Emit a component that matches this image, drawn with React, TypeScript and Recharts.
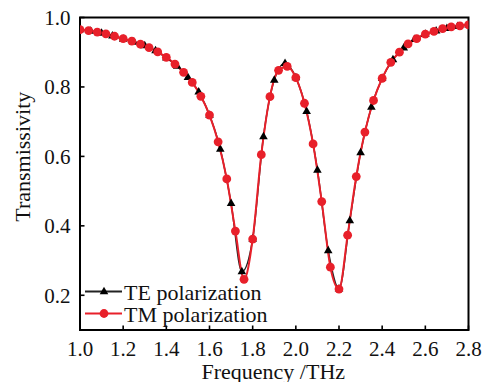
import React from 'react';
import { LineChart, Line, XAxis, YAxis, ReferenceArea, Legend } from 'recharts';

const FONT = '"Liberation Serif", "Times New Roman", serif';
const RED = '#e8202a';
const BLACK = '#000000';
const TEXT = '#111111';

// TM polarization samples (0.04 THz step)
const tmFrequency = [
  1.0, 1.04, 1.08, 1.12, 1.16, 1.2, 1.24, 1.28, 1.32, 1.36, 1.4, 1.44, 1.48, 1.52, 1.56, 1.6,
  1.64, 1.68, 1.72, 1.76, 1.8, 1.84, 1.88, 1.92, 1.96, 2.0, 2.04, 2.08, 2.12, 2.16, 2.2, 2.24,
  2.28, 2.32, 2.36, 2.4, 2.44, 2.48, 2.52, 2.56, 2.6, 2.64, 2.68, 2.72, 2.76, 2.8,
];
const tmTransmissivity = [
  0.965, 0.962, 0.958, 0.953, 0.946, 0.939, 0.932, 0.923, 0.913, 0.901, 0.885, 0.866, 0.842,
  0.813, 0.773, 0.719, 0.642, 0.535, 0.385, 0.246, 0.362, 0.605, 0.772, 0.848, 0.859, 0.827,
  0.753, 0.636, 0.47, 0.281, 0.218, 0.373, 0.542, 0.67, 0.761, 0.825, 0.871, 0.9, 0.924, 0.939,
  0.952, 0.96, 0.968, 0.973, 0.976, 0.979,
];

// TE polarization samples (0.05 THz step)
const teFrequency = [
  1.0, 1.05, 1.1, 1.15, 1.2, 1.25, 1.3, 1.35, 1.4, 1.45, 1.5, 1.55, 1.6, 1.65, 1.7, 1.75, 1.8,
  1.85, 1.9, 1.95, 2.0, 2.05, 2.1, 2.15, 2.2, 2.25, 2.3, 2.35, 2.4, 2.45, 2.5, 2.55, 2.6, 2.65,
  2.7, 2.75, 2.8,
];
const teTransmissivity = [
  0.965, 0.961, 0.955, 0.947, 0.938, 0.929, 0.919, 0.905, 0.884, 0.86, 0.828, 0.786, 0.719,
  0.621, 0.465, 0.268, 0.362, 0.657, 0.82, 0.868, 0.827, 0.73, 0.561, 0.329, 0.219, 0.415,
  0.611, 0.742, 0.825, 0.879, 0.913, 0.937, 0.952, 0.962, 0.969, 0.975, 0.979,
];

const xTicks = [1.0, 1.2, 1.4, 1.6, 1.8, 2.0, 2.2, 2.4, 2.6, 2.8];
const yTicks = [0.2, 0.4, 0.6, 0.8, 1.0];
const teName = 'TE polarization';
const tmName = 'TM polarization';
const xLabel = 'Frequency /THz';
const yLabel = 'Transmissivity';

const teData = teFrequency.map((f, i) => ({ f, te: teTransmissivity[i] }));
const tmData = tmFrequency.map((f, i) => ({ f, tm: tmTransmissivity[i] }));

const trianglePoints = (cx: number, cy: number) =>
  `${cx},${cy - 4.8} ${cx - 4.3},${cy + 2.7} ${cx + 4.3},${cy + 2.7}`;

const TriangleDot = (props: any) => {
  const { cx, cy, index } = props;
  if (cx == null || cy == null) return <g key={`t-${index}`} />;
  return <polygon key={`t-${index}`} points={trianglePoints(cx, cy)} fill={BLACK} />;
};

const CircleDot = (props: any) => {
  const { cx, cy, index } = props;
  if (cx == null || cy == null) return <g key={`c-${index}`} />;
  return <circle key={`c-${index}`} cx={cx} cy={cy} r={4.4} fill={RED} />;
};

const renderLegend = (props: any) => {
  const payload = (props && props.payload) || [];
  return (
    <div style={{ fontFamily: FONT, fontSize: 22, color: TEXT }}>
      {payload.map((entry: any) => {
        const isTE = entry.value === teName;
        const color = isTE ? '#222' : RED;
        return (
          <div key={entry.value} style={{ display: 'flex', alignItems: 'flex-start', height: 22 }}>
            <svg width={39} height={22} style={{ display: 'block' }}>
              <line x1={0} x2={37} y1={9.5} y2={9.5} stroke={color} strokeWidth={2} />
              {isTE ? (
                <polygon points={trianglePoints(19, 9.5)} fill={BLACK} />
              ) : (
                <circle cx={19} cy={9.5} r={4.4} fill={RED} />
              )}
            </svg>
            <span style={{ lineHeight: '22px', whiteSpace: 'nowrap' }}>{entry.value}</span>
          </div>
        );
      })}
    </div>
  );
};

export default function App() {
  const tickStyle = { fontFamily: FONT, fontSize: 21, fill: TEXT };
  return (
    <div style={{ position: 'absolute', left: 0, top: 0, width: 482, height: 382, background: '#fff' }}>
      <LineChart width={482} height={382} margin={{ top: 17.5, right: 13.5, left: 20, bottom: 22 }}>
        <XAxis
          type="number"
          dataKey="f"
          domain={[1, 2.8]}
          ticks={xTicks}
          interval={0}
          allowDataOverflow
          tickFormatter={(v: number) => v.toFixed(1)}
          tick={tickStyle}
          tickSize={-4.5}
          tickMargin={16}
          height={30}
          axisLine={{ stroke: BLACK, strokeWidth: 2 }}
          tickLine={{ stroke: BLACK, strokeWidth: 1.6 }}
          label={{
            content: (p: any) => {
              const vb = p.viewBox || { x: 80, y: 330, width: 388.5, height: 30 };
              return (
                <text
                  x={vb.x + vb.width / 2 - 1}
                  y={vb.y + 49.3}
                  textAnchor="middle"
                  fontFamily={FONT}
                  fontSize={22}
                  fill={TEXT}
                >
                  {xLabel}
                </text>
              );
            },
          }}
        />
        <YAxis
          type="number"
          domain={[0.1, 1]}
          ticks={yTicks}
          interval={0}
          allowDataOverflow
          tickFormatter={(v: number) => v.toFixed(1)}
          tick={tickStyle}
          tickSize={-4.5}
          tickMargin={14}
          width={60}
          axisLine={{ stroke: BLACK, strokeWidth: 2 }}
          tickLine={{ stroke: BLACK, strokeWidth: 1.6 }}
          label={{
            content: (p: any) => {
              const vb = p.viewBox || { x: 20, y: 17.5, width: 60, height: 312.5 };
              const x = vb.x + 9.5;
              const y = vb.y + vb.height / 2 - 17;
              return (
                <text
                  x={x}
                  y={y}
                  transform={`rotate(-90, ${x}, ${y})`}
                  textAnchor="middle"
                  fontFamily={FONT}
                  fontSize={22}
                  fill={TEXT}
                >
                  {yLabel}
                </text>
              );
            },
          }}
        />
        <ReferenceArea x1={1} x2={2.8} y1={0.1} y2={1} fill="none" stroke={BLACK} strokeWidth={2} />
        <Legend
          layout="vertical"
          align="center"
          verticalAlign="middle"
          wrapperStyle={{ left: 85, top: 282, width: 220 }}
          content={renderLegend}
        />
        <Line
          data={teData}
          dataKey="te"
          name={teName}
          type="monotone"
          stroke="#222"
          strokeWidth={1.5}
          dot={TriangleDot}
          activeDot={false}
          isAnimationActive={false}
        />
        <Line
          data={tmData}
          dataKey="tm"
          name={tmName}
          type="monotone"
          stroke={RED}
          strokeWidth={2}
          dot={CircleDot}
          activeDot={false}
          isAnimationActive={false}
        />
      </LineChart>
    </div>
  );
}
